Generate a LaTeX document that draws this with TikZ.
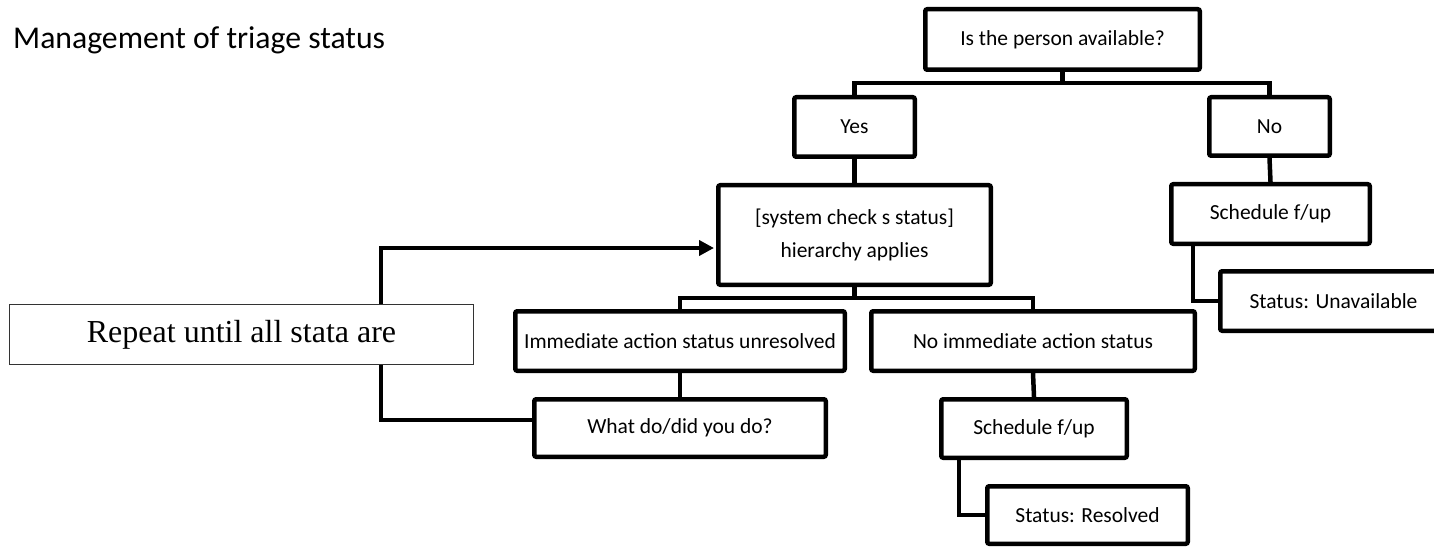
\documentclass[tikz,border=0pt]{standalone}
\usepackage{fontspec}
\setmainfont{Carlito}
\newfontfamily\timesfont{Liberation Serif}
\usetikzlibrary{arrows.meta}
\tikzset{
  bx/.style={draw=black, line width=4.5pt, rounded corners=2pt, fill=white,
    inner sep=0pt, align=center, font=\fontsize{21.5}{33}\selectfont},
  conn/.style={draw=black, line width=4.5pt, line join=miter},
}
\newcommand{\bxnode}[6]{% name, cx, cy, w, h, text
  \node[bx, minimum width={#4pt-4.5pt}, minimum height={#5pt-4.5pt}] (#1) at (#2,#3) {#6};}
\begin{document}
\begin{tikzpicture}[x=1pt,y=-1pt]
\useasboundingbox (0,0) rectangle (1434,548);
\clip (0,0) rectangle (1434,548);
\node[anchor=base west, inner sep=0pt, font=\fontsize{31.7}{38}\selectfont] (title) at (13,49) {Management of triage status};

\bxnode{q}{1062.5}{39.5}{279}{65}{Is the person available?}
\bxnode{yes}{854.5}{127}{125}{64}{Yes}
\bxnode{no}{1269.5}{126.5}{125}{63}{No}
\bxnode{sys}{854.5}{235}{277}{104}{[system check s status]\\hierarchy applies}
\bxnode{schA}{1270.5}{214}{203}{64}{Schedule f/up}
\bxnode{unav}{1333.5}{301}{231}{64}{Status: Unavailable}
\bxnode{imm}{680}{341}{334}{64}{Immediate action status unresolved}
\bxnode{noimm}{1033}{341}{328}{64}{No immediate action status}
\bxnode{what}{680}{428}{296}{62}{What do/did you do?}
\bxnode{schB}{1034}{428.5}{190}{63}{Schedule f/up}
\bxnode{res}{1087.5}{515}{205}{62}{Status: Resolved}

\coordinate (j1) at (1062.5,83);
\coordinate (j2) at (854.5,298);
\coordinate (lpt) at (381,248);
\coordinate (lpb) at (381,420);
\coordinate (ka) at (1193,250);
\coordinate (kb) at (959,450);

\draw[conn] (q.south) -- (j1);
\draw[conn] (yes.north) |- (j1) -| (no.north);
\draw[conn] (yes.south) -- (sys.north);
\draw[conn] (no.south) -- (schA.north);
\draw[conn] (ka |- schA.south) |- (unav.west);
\draw[conn] (sys.south) -- (j2);
\draw[conn] (imm.north) |- (j2) -| (noimm.north);
\draw[conn] (imm.south) -- (what.north);
\draw[conn] (noimm.south) -- (schB.north);
\draw[conn] (kb |- schB.south) |- (res.west);
\draw[conn, -{Triangle[length=15pt,width=15pt]}, shorten >=2pt]
  (what.west |- lpb) -- (lpb) -- (lpt) -- (lpt -| sys.west);

\node[draw=black!80, line width=1pt, fill=white, minimum width=464pt, minimum height=60pt,
  inner sep=0pt, font=\timesfont\fontsize{32}{38}\selectfont] (rep) at (241.5,334.5) {Repeat until all stata are};
\end{tikzpicture}
\end{document}
